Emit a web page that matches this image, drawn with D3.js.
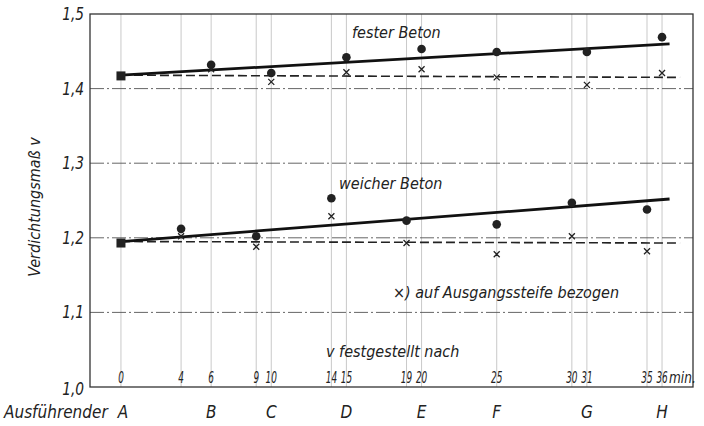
<!DOCTYPE html>
<html lang="de">
<head>
<meta charset="UTF-8">
<title>Verdichtungsmaß</title>
<script src="https://d3js.org/d3.v7.min.js"></script>
<style>
    body { margin: 0; background: #fff; }
    svg text {
        font-family: "DejaVu Sans", sans-serif;
        font-stretch: condensed;
        font-style: italic;
        fill: #222;
    }
    .grid { stroke: #bbb; stroke-width: 0.8; }
    .hgrid { stroke: #555; stroke-width: 0.9; stroke-dasharray: 14,3,2,3; }
    .frame { fill: none; stroke: #333; stroke-width: 1.3; }
</style>
</head>
<body>
<svg id="chart" width="704" height="426"></svg>
<script>
// minute ticks on the x axis
const minuteTicks = [0, 4, 6, 9, 10, 14, 15, 19, 20, 25, 30, 31, 35, 36];
const yTicks = [1.0, 1.1, 1.2, 1.3, 1.4, 1.5];

// Ausführender (who did the test) at minute
const workers = ["A", "B", "C", "D", "E", "F", "G", "H"];
const workerMin = [0, 6, 10, 15, 20, 25, 31, 36];

// fester Beton
const festMin = [6, 10, 15, 20, 25, 31, 36];
const festDots = [1.432, 1.421, 1.442, 1.453, 1.449, 1.449, 1.469];
const festCross = [1.426, 1.409, 1.422, 1.426, 1.415, 1.405, 1.421];
const festStart = 1.417;
const festLine = [[0, 1.418], [36.5, 1.460]];
const festDash = [[0, 1.418], [37.2, 1.415]];

// weicher Beton
const weichMin = [4, 9, 14, 19, 25, 30, 35];
const weichDots = [1.212, 1.202, 1.253, 1.223, 1.218, 1.247, 1.238];
const weichCross = [1.202, 1.188, 1.229, 1.193, 1.178, 1.202, 1.182];
const weichStart = 1.193;
const weichLine = [[0, 1.195], [36.5, 1.252]];
const weichDash = [[0, 1.195], [37.2, 1.193]];

const svg = d3.select("#chart");
const pLeft = 90, pRight = 693, pTop = 14, pBottom = 387;

const x = d3.scaleLinear().domain([-2.06, 38.06]).range([pLeft, pRight]);
const y = d3.scaleLinear().domain([1.0, 1.5]).range([pBottom, pTop]);
const fmt = v => v.toFixed(1).replace(".", ",");

// vertical grid
svg.selectAll(".grid").data(minuteTicks).enter().append("line")
    .attr("class", "grid")
    .attr("x1", d => x(d)).attr("x2", d => x(d))
    .attr("y1", pTop).attr("y2", pBottom);

// horizontal grid
svg.selectAll(".hgrid").data(yTicks.slice(1, 5)).enter().append("line")
    .attr("class", "hgrid")
    .attr("x1", pLeft).attr("x2", pRight)
    .attr("y1", d => y(d)).attr("y2", d => y(d));

// axes + frame
svg.append("rect").attr("class", "frame")
    .attr("x", pLeft).attr("y", pTop)
    .attr("width", pRight - pLeft).attr("height", pBottom - pTop);

// y tick labels
svg.selectAll(".ylab").data(yTicks).enter().append("text")
    .attr("transform", d => `translate(84,${y(d) + (d === 1.0 ? 8 : 6)}) scale(0.9,1)`)
    .attr("text-anchor", "end")
    .style("font-size", "17px")
    .text(fmt);

svg.append("text")
    .attr("transform", "translate(40,207) rotate(-90)")
    .attr("text-anchor", "middle")
    .style("font-size", "16px")
    .text("Verdichtungsmaß v");

// x tick labels (inside plot), narrow digits
svg.selectAll(".xlab").data(minuteTicks).enter().append("text")
    .attr("transform", d => `translate(${x(d)},383) scale(0.66,1)`)
    .attr("text-anchor", "middle")
    .style("font-size", "15px")
    .text(d => d);
svg.append("text")
    .attr("transform", `translate(${x(36) + 7},383) scale(0.9,1)`)
    .style("font-size", "15px").text("min.");

// workers
svg.append("text").attr("x", 4).attr("y", 418)
    .style("font-size", "17px").text("Ausführender");
svg.selectAll(".wk").data(workers).enter().append("text")
    .attr("x", (d, i) => x(workerMin[i]) + (i === 0 ? 2 : 0)).attr("y", 418)
    .attr("text-anchor", "middle")
    .style("font-size", "17px")
    .text(d => d);

// annotations
svg.append("text").attr("x", 352).attr("y", 38).style("font-size", "16px").text("fester Beton");
svg.append("text").attr("x", 339).attr("y", 189).style("font-size", "16px").text("weicher Beton");
svg.append("text").attr("x", 393).attr("y", 298).style("font-size", "16px").text("×) auf Ausgangssteife bezogen");
svg.append("text").attr("x", 326).attr("y", 357).style("font-size", "16px").text("v festgestellt nach");

const line = d3.line().x(d => x(d[0])).y(d => y(d[1]));

function series(mins, dots, cross, start, solid, dash) {
    svg.append("path").datum(dash).attr("d", line)
        .attr("fill", "none").attr("stroke", "#222").attr("stroke-width", 1.6)
        .attr("stroke-dasharray", "9,4");
    svg.append("path").datum(solid).attr("d", line)
        .attr("fill", "none").attr("stroke", "#111").attr("stroke-width", 2.8);
    svg.append("rect")
        .attr("x", x(0) - 4.5).attr("y", y(start) - 4.5)
        .attr("width", 9).attr("height", 9).attr("fill", "#222");
    svg.selectAll(null).data(mins).enter().append("circle")
        .attr("cx", d => x(d)).attr("cy", (d, i) => y(dots[i]))
        .attr("r", 4.3).attr("fill", "#222");
    svg.selectAll(null).data(mins).enter().append("path")
        .attr("d", (d, i) => {
            const cx = x(d), cy = y(cross[i]);
            return `M${cx - 3},${cy - 3}L${cx + 3},${cy + 3}M${cx + 3},${cy - 3}L${cx - 3},${cy + 3}`;
        })
        .attr("stroke", "#222").attr("stroke-width", 1.3);
}

series(festMin, festDots, festCross, festStart, festLine, festDash);
series(weichMin, weichDots, weichCross, weichStart, weichLine, weichDash);
</script>
</body>
</html>
